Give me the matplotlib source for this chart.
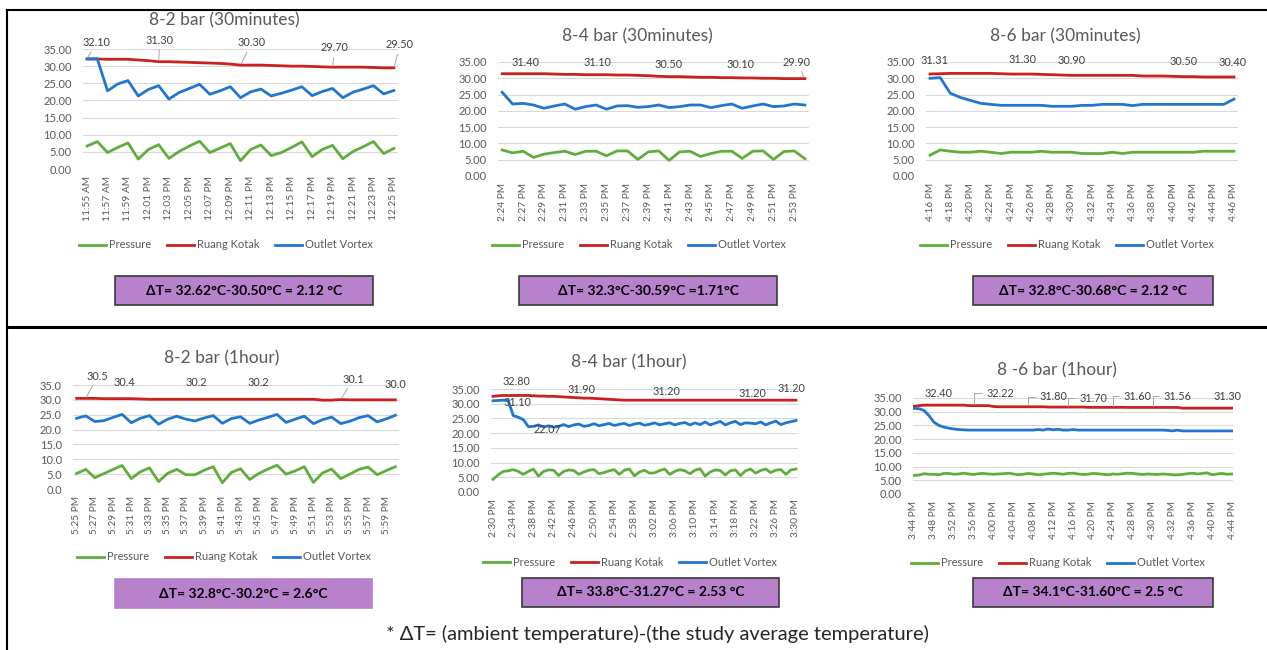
import matplotlib
matplotlib.use("Agg")
import matplotlib.pyplot as plt
from matplotlib.lines import Line2D
from matplotlib.patches import Rectangle

plt.rcParams['font.family'] = ['Lato', 'DejaVu Sans']

# ---- data ----
p1_ticks = ['11:55 AM', '11:57 AM', '11:59 AM', '12:01 PM', '12:03 PM', '12:05 PM', '12:07 PM', '12:09 PM',
            '12:11 PM', '12:13 PM', '12:15 PM', '12:17 PM', '12:19 PM', '12:21 PM', '12:23 PM', '12:25 PM']
p1_pressure = [6.7, 8.0, 4.8, 6.3, 7.6, 2.9, 5.7, 7.1, 3.1, 5.1, 6.7, 8.1, 4.8, 6.1, 7.4, 2.4,
               5.7, 7.0, 3.9, 4.8, 6.3, 7.9, 3.6, 5.7, 6.9, 3.0, 5.1, 6.5, 8.0, 4.5, 6.0]
p1_ruang = [32.1, 32.1, 32.0, 32.0, 32.0, 31.8, 31.6, 31.3, 31.3, 31.2, 31.1, 31.0, 30.9, 30.8, 30.6, 30.3,
            30.3, 30.3, 30.2, 30.1, 30.0, 30.0, 29.9, 29.8, 29.7, 29.7, 29.7, 29.7, 29.6, 29.5, 29.5]
p1_outlet = [32.1, 32.1, 22.8, 24.8, 25.8, 21.3, 23.2, 24.3, 20.4, 22.3, 23.5, 24.7, 21.8, 22.8, 24.0, 20.8,
             22.5, 23.3, 21.3, 22.1, 23.0, 24.0, 21.4, 22.6, 23.5, 20.8, 22.4, 23.3, 24.3, 21.9, 22.9]

p2_ticks = ['2:24 PM', '2:27 PM', '2:29 PM', '2:31 PM', '2:33 PM', '2:35 PM', '2:37 PM', '2:39 PM',
            '2:41 PM', '2:43 PM', '2:45 PM', '2:47 PM', '2:49 PM', '2:51 PM', '2:53 PM']
p2_pressure = [8.0, 7.1, 7.6, 5.7, 6.7, 7.2, 7.6, 6.6, 7.6, 7.6, 6.2, 7.7, 7.7, 5.1, 7.4,
               7.7, 4.8, 7.4, 7.6, 6.0, 6.9, 7.6, 7.6, 5.4, 7.6, 7.7, 5.1, 7.5, 7.7, 5.3]
p2_ruang = [31.4, 31.4, 31.4, 31.4, 31.4, 31.3, 31.2, 31.2, 31.1, 31.1, 31.1, 31.0, 31.0, 30.9, 30.8,
            30.6, 30.5, 30.5, 30.4, 30.3, 30.3, 30.2, 30.2, 30.1, 30.1, 30.0, 30.0, 29.9, 29.9, 29.9]
p2_outlet = [25.7, 22.1, 22.3, 21.8, 20.8, 21.5, 22.1, 20.5, 21.3, 21.8, 20.5, 21.5, 21.6, 21.1, 21.3,
             21.8, 21.0, 21.3, 21.8, 21.8, 21.0, 21.6, 22.1, 20.8, 21.5, 22.1, 21.3, 21.5, 22.1, 21.8]

p3_ticks = ['4:16 PM', '4:18 PM', '4:20 PM', '4:22 PM', '4:24 PM', '4:26 PM', '4:28 PM', '4:30 PM',
            '4:32 PM', '4:34 PM', '4:36 PM', '4:38 PM', '4:40 PM', '4:42 PM', '4:44 PM', '4:46 PM']
p3_pressure = [6.4, 8.0, 7.6, 7.3, 7.3, 7.6, 7.3, 6.9, 7.3, 7.3, 7.3, 7.6, 7.3, 7.3, 7.3, 6.9,
               6.9, 6.9, 7.3, 6.9, 7.3, 7.3, 7.3, 7.3, 7.3, 7.3, 7.3, 7.6, 7.6, 7.6, 7.6]
p3_ruang = [31.31, 31.4, 31.5, 31.5, 31.5, 31.5, 31.5, 31.4, 31.3, 31.3, 31.3, 31.2, 31.1, 31.0, 30.9, 30.9,
            30.9, 30.9, 30.9, 30.9, 30.9, 30.7, 30.7, 30.7, 30.6, 30.5, 30.5, 30.4, 30.4, 30.4, 30.4]
p3_outlet = [30.0, 30.2, 25.4, 24.1, 23.2, 22.3, 22.0, 21.7, 21.7, 21.7, 21.7, 21.7, 21.4, 21.4, 21.4, 21.7,
             21.7, 22.0, 22.0, 22.0, 21.6, 22.0, 22.0, 22.0, 22.0, 22.0, 22.0, 22.0, 22.0, 22.0, 23.6]

p4_ticks = ['5:25 PM', '5:27 PM', '5:29 PM', '5:31 PM', '5:33 PM', '5:35 PM', '5:37 PM', '5:39 PM', '5:41 PM',
            '5:43 PM', '5:45 PM', '5:47 PM', '5:49 PM', '5:51 PM', '5:53 PM', '5:55 PM', '5:57 PM', '5:59 PM']
p4_pressure = [5.2, 6.6, 3.8, 5.2, 6.6, 7.9, 3.5, 5.8, 7.1, 2.5, 5.3, 6.6, 4.8, 4.8, 6.3, 7.5, 2.1, 5.6,
               6.8, 3.2, 5.2, 6.7, 8.0, 5.0, 6.1, 7.5, 2.2, 5.4, 6.7, 3.5, 5.0, 6.6, 7.4, 4.8, 6.2, 7.5]
p4_ruang = [30.5, 30.5, 30.5, 30.4, 30.4, 30.4, 30.4, 30.3, 30.2, 30.2, 30.2, 30.2, 30.2, 30.2, 30.2, 30.2, 30.2, 30.2,
            30.2, 30.2, 30.2, 30.2, 30.2, 30.2, 30.2, 30.2, 30.2, 29.9, 29.9, 30.1, 30.0, 30.0, 30.0, 30.0, 30.0, 30.0]
p4_outlet = [23.8, 24.6, 22.7, 23.0, 24.1, 25.1, 22.3, 23.8, 24.7, 21.8, 23.5, 24.5, 23.5, 22.9, 23.9, 24.7, 22.1, 23.7,
             24.3, 22.1, 23.2, 24.1, 25.1, 22.4, 23.5, 24.5, 22.0, 23.3, 24.2, 22.0, 22.8, 24.0, 24.7, 22.6, 23.6, 24.8]

p5_ticks = ['2:30 PM', '2:34 PM', '2:38 PM', '2:42 PM', '2:46 PM', '2:50 PM', '2:54 PM', '2:58 PM',
            '3:02 PM', '3:06 PM', '3:10 PM', '3:14 PM', '3:18 PM', '3:22 PM', '3:26 PM', '3:30 PM']
p5_pressure = [4.3, 5.8, 7.0, 7.2, 7.6, 7.0, 6.0, 7.0, 7.8, 5.4,
               7.0, 7.5, 7.4, 5.6, 7.0, 7.5, 7.3, 6.0, 6.8, 7.4,
               7.6, 6.2, 6.6, 7.2, 7.6, 6.0, 7.4, 7.8, 5.5, 6.8,
               7.4, 6.4, 6.5, 7.3, 7.8, 6.0, 7.0, 7.6, 7.2, 6.2,
               7.4, 7.9, 5.4, 6.8, 7.5, 7.3, 5.8, 7.2, 7.5, 5.6,
               7.2, 7.8, 6.4, 7.3, 7.8, 6.6, 7.4, 7.6, 6.0, 7.5,
               7.8]
p5_ruang = [32.5, 32.7, 32.8, 32.8, 32.8, 32.8, 32.8, 32.8, 32.7, 32.6,
            32.6, 32.5, 32.5, 32.4, 32.3, 32.2, 32.1, 32.0, 31.9, 31.9,
            31.8, 31.7, 31.6, 31.5, 31.4, 31.3, 31.2, 31.2, 31.2, 31.2,
            31.2, 31.2, 31.2, 31.2, 31.2, 31.2, 31.2, 31.2, 31.2, 31.2,
            31.2, 31.2, 31.2, 31.2, 31.2, 31.2, 31.2, 31.2, 31.2, 31.2,
            31.2, 31.2, 31.2, 31.2, 31.2, 31.2, 31.2, 31.2, 31.2, 31.2,
            31.2]
p5_outlet = [31.0, 31.1, 31.2, 31.1, 26.0, 25.4, 24.6, 22.2, 22.3, 22.8,
             22.1, 22.5, 22.0, 22.3, 22.9, 22.2, 22.8, 23.1, 22.3, 22.6,
             23.2, 22.5, 22.9, 23.3, 22.6, 23.0, 23.3, 22.6, 23.1, 23.4,
             22.7, 23.0, 23.5, 22.8, 23.2, 23.5, 22.8, 23.3, 23.6, 22.8,
             23.5, 22.9, 23.8, 22.8, 23.4, 24.0, 22.8, 23.5, 24.0, 22.9,
             23.5, 23.4, 23.2, 23.8, 22.8, 23.5, 24.1, 22.9, 23.5, 23.9,
             24.3]

p6_ticks = ['3:44 PM', '3:48 PM', '3:52 PM', '3:56 PM', '4:00 PM', '4:04 PM', '4:08 PM', '4:12 PM', '4:16 PM',
            '4:20 PM', '4:24 PM', '4:28 PM', '4:30 PM', '4:32 PM', '4:36 PM', '4:40 PM', '4:44 PM']
p6_pressure = [6.8, 6.9, 7.4, 7.2, 7.2, 7.0, 7.5, 7.5, 7.2, 7.3,
               7.6, 7.3, 7.1, 7.4, 7.5, 7.3, 7.2, 7.3, 7.4, 7.6,
               7.3, 7.0, 7.2, 7.5, 7.3, 7.0, 7.2, 7.4, 7.6, 7.4,
               7.2, 7.5, 7.6, 7.3, 7.1, 7.2, 7.5, 7.4, 7.2, 7.0,
               7.3, 7.2, 7.4, 7.6, 7.5, 7.3, 7.1, 7.3, 7.2, 7.1,
               7.3, 7.2, 7.0, 7.0, 7.1, 7.4, 7.6, 7.3, 7.5, 7.7,
               7.0, 7.3, 7.5, 7.2, 7.3]
p6_ruang = [32.0, 32.2, 32.4, 32.4, 32.4, 32.4, 32.4, 32.4, 32.4, 32.4,
            32.4, 32.22, 32.22, 32.22, 32.22, 32.22, 31.9, 31.8, 31.8, 31.8,
            31.8, 31.8, 31.8, 31.8, 31.8, 31.8, 31.8, 31.7, 31.7, 31.7,
            31.7, 31.7, 31.7, 31.7, 31.7, 31.6, 31.6, 31.6, 31.6, 31.6,
            31.6, 31.6, 31.6, 31.56, 31.56, 31.56, 31.56, 31.56, 31.56, 31.56,
            31.56, 31.56, 31.56, 31.56, 31.3, 31.3, 31.3, 31.3, 31.3, 31.3,
            31.3, 31.3, 31.3, 31.3, 31.3]
p6_outlet = [31.2, 31.1, 30.5, 28.6, 26.2, 25.0, 24.4, 24.0, 23.7, 23.5,
             23.4, 23.3, 23.3, 23.3, 23.3, 23.3, 23.3, 23.3, 23.3, 23.3,
             23.3, 23.3, 23.3, 23.3, 23.3, 23.5, 23.3, 23.7, 23.4, 23.6,
             23.3, 23.3, 23.5, 23.3, 23.3, 23.3, 23.3, 23.3, 23.3, 23.3,
             23.3, 23.3, 23.3, 23.3, 23.3, 23.3, 23.3, 23.3, 23.3, 23.3,
             23.3, 23.2, 23.0, 23.3, 23.0, 23.0, 23.0, 23.0, 23.0, 23.0,
             23.0, 23.0, 23.0, 23.0, 23.0]

titles = ['8-2 bar (30minutes)', '8-4 bar (30minutes)', '8-6 bar (30minutes)',
          '8-2 bar (1hour)', '8-4 bar (1hour)', '8 -6 bar (1hour)']
delta_texts = ['ΔT= 32.62°C-30.50°C = 2.12 °C', 'ΔT= 32.3°C-30.59°C =1.71°C', 'ΔT= 32.8°C-30.68°C = 2.12 °C',
               'ΔT= 32.8°C-30.2°C = 2.6°C', 'ΔT= 33.8°C-31.27°C = 2.53 °C', 'ΔT= 34.1°C-31.60°C = 2.5 °C']

# data labels: (text, point index, series, text x, text y, leader style)
p1_labels = [('32.10', 0, 'r', 0.9, 37.0, 'line'), ('31.30', 7, 'r', 7.1, 37.6, 'line'),
             ('30.30', 15, 'r', 16.1, 36.8, 'line'), ('29.70', 24, 'r', 24.2, 35.3, 'line'),
             ('29.50', 30, 'r', 30.6, 36.2, 'line')]
p2_labels = [('31.40', 2, 'r', 2.2, 34.7, None), ('31.10', 9, 'r', 9.1, 34.7, None),
             ('30.50', 16, 'r', 15.9, 34.1, None), ('30.10', 23, 'r', 22.8, 34.1, None),
             ('29.90', 29, 'r', 28.2, 35.0, 'line')]
p3_labels = [('31.31', 0, 'r', 0.4, 35.6, None), ('31.30', 9, 'r', 9.1, 35.9, None),
             ('30.90', 14, 'r', 14.0, 35.6, None), ('30.50', 25, 'r', 25.0, 35.3, None),
             ('30.40', 30, 'r', 29.9, 35.0, None)]
p4_labels = [('30.5', 1, 'r', 2.3, 38.0, 'line'), ('30.4', 5, 'r', 5.2, 35.7, None),
             ('30.2', 13, 'r', 13.1, 35.7, None), ('30.2', 20, 'r', 20.0, 35.7, None),
             ('30.1', 29, 'r', 30.4, 37.0, 'line'), ('30.0', 35, 'r', 35.0, 35.3, None)]
p5_labels = [('32.80', 5, 'r', 4.7, 37.4, None), ('31.90', 18, 'r', 17.6, 34.7, None),
             ('31.20', 34, 'r', 34.3, 34.3, None), ('31.20', 51, 'r', 51.3, 33.6, None),
             ('31.20', 60, 'r', 59.0, 35.0, None), ('31.10', 3, 'b', 4.9, 30.4, None),
             ('22.07', 8, 'b', 10.8, 21.4, None)]
p6_labels = [('32.40', 5, 'r', 5.0, 36.8, None), ('32.22', 12, 'r', 17.3, 36.8, 'angle'),
             ('31.80', 23, 'r', 28.1, 35.4, 'angle'), ('31.70', 31, 'r', 36.1, 35.0, 'angle'),
             ('31.60', 40, 'r', 45.0, 35.7, 'angle'), ('31.56', 48, 'r', 53.0, 35.7, 'angle'),
             ('31.30', 64, 'r', 63.1, 35.7, None)]

GREEN = '#5fae3b'
RED = '#cc1f1f'
BLUE = '#2176cf'
GRAY = '#595959'
PURPLE = '#b881cc'

W, H = 1267, 650
fig = plt.figure(figsize=(W / 100, H / 100), dpi=100)

# layout in pixels: axes (l, t, r, b), title centre, legend centre, box (l, t, r, b)
panels = [
    (p1_ticks, 2, p1_pressure, p1_ruang, p1_outlet, p1_labels, '{:.2f}', (83, 49, 398, 169), (224, 20), (226, 245), (115, 276, 373, 305), 0.4),
    (p2_ticks, 2, p2_pressure, p2_ruang, p2_outlet, p2_labels, '{:.2f}', (498, 62, 809, 176), (637, 36), (639, 245), (519, 276, 777, 305), 0.4),
    (p3_ticks, 2, p3_pressure, p3_ruang, p3_outlet, p3_labels, '{:.2f}', (926, 62, 1238, 176), (1065, 36), (1067, 245), (973, 276, 1213, 305), 0.4),
    (p4_ticks, 2, p4_pressure, p4_ruang, p4_outlet, p4_labels, '{:.1f}', (73, 385, 399, 489), (222, 358), (224, 557), (115, 579, 372, 608), 0.4),
    (p5_ticks, 4, p5_pressure, p5_ruang, p5_outlet, p5_labels, '{:.2f}', (491, 389, 798, 492), (629, 362), (630, 562), (522, 578, 779, 607), 0.4),
    (p6_ticks, 4, p6_pressure, p6_ruang, p6_outlet, p6_labels, '{:.2f}', (913, 398, 1233, 494), (1057, 370), (1058, 563), (973, 578, 1213, 607), 0.2),
]

for k, (ticks, step, pres, ruang, outlet, labels, fmt, rect, tpos, lpos, bpos, pad) in enumerate(panels):
    l, t, r, b = rect
    ax = fig.add_axes([l / W, 1 - b / H, (r - l) / W, (b - t) / H])
    x = list(range(len(pres)))
    ax.plot(x, pres, color=GREEN, lw=2.0, solid_joinstyle='round')
    ax.plot(x, ruang, color=RED, lw=2.0, solid_joinstyle='round')
    ax.plot(x, outlet, color=BLUE, lw=2.0, solid_joinstyle='round')
    ax.set_ylim(0, 35)
    ax.set_xlim(-pad, len(pres) - 1 + pad)
    yt = [0, 5, 10, 15, 20, 25, 30, 35]
    ax.set_yticks(yt)
    ax.set_yticklabels([fmt.format(v) for v in yt], fontsize=8, color=GRAY)
    ax.set_xticks(list(range(0, step * len(ticks), step)))
    ax.set_xticklabels(ticks, rotation=90, fontsize=7.3, color=GRAY)
    ax.tick_params(length=0)
    ax.tick_params(axis='y', pad=8)
    ax.tick_params(axis='x', pad=5)
    ax.grid(axis='y', color='#d9d9d9', lw=0.8)
    ax.set_axisbelow(True)
    for s in ax.spines.values():
        s.set_visible(False)

    for txt, i, ser, tx, ty, lead in labels:
        yv = ruang[i] if ser == 'r' else outlet[i]
        kw = {}
        if lead == 'line':
            kw['arrowprops'] = dict(arrowstyle='-', color='#a6a6a6', lw=0.7, shrinkA=1, shrinkB=1)
        elif lead == 'angle':
            kw['arrowprops'] = dict(arrowstyle='-', color='#a6a6a6', lw=0.7, shrinkA=1, shrinkB=1,
                                    connectionstyle='angle,angleA=0,angleB=90,rad=0')
        ax.annotate(txt, xy=(i, yv), xytext=(tx, ty), ha='center', va='center',
                    fontsize=7.8, color='#404040', annotation_clip=False, **kw)

    fig.text(tpos[0] / W, 1 - tpos[1] / H, titles[k], ha='center', va='center', fontsize=12.5, color=GRAY)

    handles = [Line2D([], [], color=GREEN, lw=2), Line2D([], [], color=RED, lw=2), Line2D([], [], color=BLUE, lw=2)]
    fig.legend(handles, ['Pressure', 'Ruang Kotak', 'Outlet Vortex'], loc='center',
               bbox_to_anchor=(lpos[0] / W, 1 - lpos[1] / H), ncol=3, frameon=False,
               fontsize=8, labelcolor=GRAY, handlelength=2.4, handletextpad=0.3, columnspacing=1.4)

    bl, bt, br, bb = bpos
    edge = PURPLE if k == 3 else '#3a3a3a'
    fig.add_artist(Rectangle((bl / W, 1 - bb / H), (br - bl) / W, (bb - bt) / H, transform=fig.transFigure,
                             facecolor=PURPLE, edgecolor=edge, lw=1.2))
    fig.text((bl + br) / 2 / W, 1 - (bt + bb) / 2 / H, delta_texts[k], ha='center', va='center',
             fontsize=10, fontweight='bold', color='black')

# frame lines
fig.add_artist(Line2D([7 / W, 7 / W], [0, 1 - 10 / H], transform=fig.transFigure, color='black', lw=1.5))
fig.add_artist(Line2D([7 / W, 1], [1 - 10 / H, 1 - 10 / H], transform=fig.transFigure, color='black', lw=1.5))
fig.add_artist(Line2D([7 / W, 1], [1 - 327 / H, 1 - 327 / H], transform=fig.transFigure, color='black', lw=2.2))

fig.text(657 / W, 1 - 634 / H, '* ΔT= (ambient temperature)-(the study average temperature)',
         ha='center', va='center', fontsize=14.5, color='#262626')

fig.savefig('out.png', dpi=100)
